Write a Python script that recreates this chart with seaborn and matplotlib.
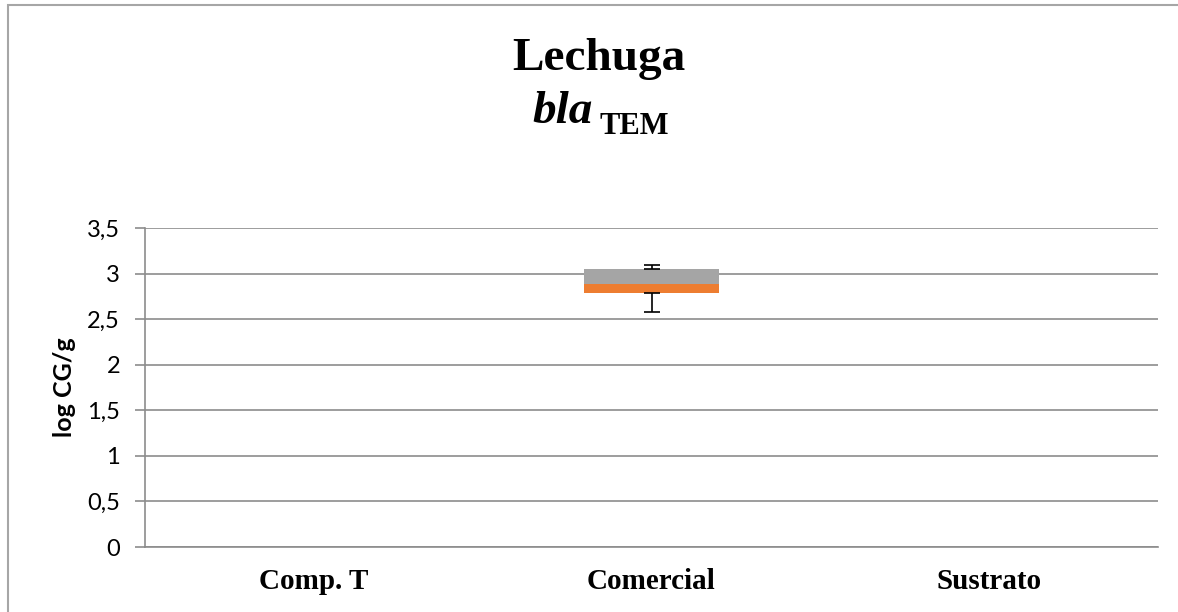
import numpy as np
import pandas as pd
import matplotlib
matplotlib.use("Agg")
import matplotlib.pyplot as plt
from matplotlib.patches import Rectangle
from matplotlib.ticker import FuncFormatter, FixedLocator
import seaborn as sns

# --- data ---
categories = ["Comp. T", "Comercial", "Sustrato"]
box_low = [np.nan, 2.79, np.nan]       # bottom of box
box_mid = [np.nan, 2.89, np.nan]       # median
box_high = [np.nan, 3.05, np.nan]      # top of box
whisker_low = [np.nan, 2.58, np.nan]
whisker_high = [np.nan, 3.09, np.nan]
y_ticks = [0, 0.5, 1, 1.5, 2, 2.5, 3, 3.5]

df = pd.DataFrame({"cat": categories, "low": box_low, "mid": box_mid, "high": box_high,
                   "wlo": whisker_low, "whi": whisker_high})
df["lower_part"] = df["mid"] - df["low"]
df["upper_part"] = df["high"] - df["mid"]

sns.set_theme(style="white")
plt.rcParams["font.family"] = ["Lato", "DejaVu Sans"]
plt.rcParams["text.color"] = "black"
plt.rcParams["axes.labelcolor"] = "black"
plt.rcParams["xtick.color"] = "black"
plt.rcParams["ytick.color"] = "black"

fig = plt.figure(figsize=(11.78, 6.12), dpi=100)
ax = fig.add_axes([145 / 1178, 1 - 547 / 612, (1158 - 145) / 1178, (547 - 228) / 612])

x = np.arange(len(categories))
w = 0.4
ax.bar(x, df["lower_part"], bottom=df["low"], width=w, color="#ED7D31", linewidth=0, zorder=3)
ax.bar(x, df["upper_part"], bottom=df["mid"], width=w, color="#A5A5A5", linewidth=0, zorder=3)
# whiskers
ax.errorbar(x, df["low"], yerr=[df["low"] - df["wlo"], np.zeros(3)], fmt="none",
            ecolor="black", elinewidth=1.2, capsize=6, capthick=1.2, zorder=4)
ax.errorbar(x, df["high"], yerr=[np.zeros(3), df["whi"] - df["high"]], fmt="none",
            ecolor="black", elinewidth=1.2, capsize=6, capthick=1.2, zorder=4)

ax.set_xlim(-0.5, 2.5)
ax.set_ylim(0, 3.5)
ax.yaxis.set_major_locator(FixedLocator(y_ticks))
ax.yaxis.set_major_formatter(FuncFormatter(lambda v, p: f"{v:g}".replace(".", ",")))
ax.grid(axis="y", color="#8C8C8C", linewidth=1.2, zorder=0)
ax.set_axisbelow(True)
for s in ["top", "right"]:
    ax.spines[s].set_visible(False)
for s in ["left", "bottom"]:
    ax.spines[s].set_color("#8C8C8C")
    ax.spines[s].set_linewidth(1.2)

ax.set_xticks(x)
ax.set_xticklabels(categories, fontfamily="Liberation Serif", fontweight="bold", fontsize=21)
ax.tick_params(axis="x", length=0, pad=15)
ax.set_xticks([-0.5, 0.5, 1.5, 2.5], minor=True)
ax.tick_params(axis="x", which="minor", direction="out", length=7, color="#8C8C8C", width=1.2)
ax.tick_params(axis="y", direction="out", length=7, color="#8C8C8C", width=1.2,
               labelsize=17, labelcolor="black", pad=11, left=True)

ax.set_ylabel("log CG/g", fontsize=18, fontweight="bold", labelpad=8)

fig.text(0.508, 1 - 70 / 612, "Lechuga", ha="center", va="baseline",
         fontfamily="Liberation Serif", fontweight="bold", fontsize=34)
fig.text(593 / 1178, 1 - 123 / 612, "bla", ha="right", va="baseline",
         fontfamily="Liberation Serif", fontweight="bold", style="italic", fontsize=34)
fig.text(599 / 1178, 1 - 134 / 612, "TEM", ha="left", va="baseline",
         fontfamily="Liberation Serif", fontweight="bold", fontsize=22)

# chart-area border
fig.patches.append(Rectangle((8 / 1178, -0.05), 1.1, 1 - 5 / 612 + 0.05,
                             transform=fig.transFigure, fill=False,
                             edgecolor="#A6A6A6", linewidth=1.5))

fig.savefig("out.png", dpi=100)
